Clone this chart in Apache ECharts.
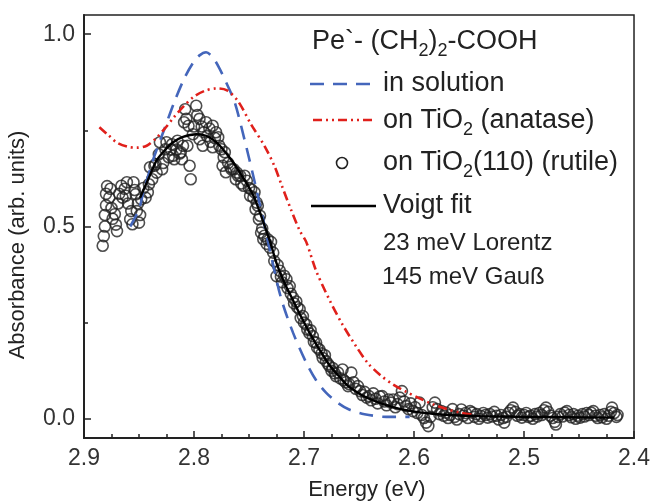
<!DOCTYPE html>
<html>
<head>
<meta charset="utf-8">
<script src="https://cdn.jsdelivr.net/npm/echarts@6/dist/echarts.min.js"></script>
<style>html,body{margin:0;padding:0;background:#fff}#c{width:653px;height:501px}</style>
</head>
<body>
<div id="c"></div>
<script>
// ---- data (Energy eV, Absorbance) ----
const xTicks = [2.4, 2.5, 2.6, 2.7, 2.8, 2.9];
const yTicks = [0.0, 0.5, 1.0];
const yMinorTicks = [0.25, 0.75];

const inSolution = [
 [2.858,0.500],[2.850,0.545],[2.846,0.590],[2.837,0.675],[2.827,0.753],[2.818,0.823],[2.809,0.884],
 [2.801,0.925],[2.795,0.945],[2.789,0.953],[2.783,0.940],[2.777,0.912],[2.770,0.870],[2.763,0.823],
 [2.754,0.725],[2.746,0.630],[2.738,0.530],[2.730,0.425],[2.721,0.315],[2.710,0.224],[2.698,0.146],
 [2.689,0.100],[2.680,0.068],[2.670,0.043],[2.659,0.024],[2.645,0.012],[2.625,0.005],[2.604,0.005]
];

const onAnatase = [
 [2.886,0.758],[2.878,0.738],[2.870,0.718],[2.860,0.707],[2.852,0.705],[2.843,0.710],[2.835,0.728],
 [2.827,0.753],[2.818,0.785],[2.809,0.814],[2.800,0.838],[2.790,0.853],[2.780,0.859],[2.770,0.854],
 [2.760,0.826],[2.748,0.765],[2.736,0.710],[2.727,0.658],[2.720,0.605],[2.712,0.545],[2.704,0.490],
 [2.698,0.460],[2.689,0.385],[2.677,0.310],[2.665,0.245],[2.653,0.190],[2.642,0.145],[2.630,0.112],
 [2.619,0.089],[2.607,0.070],[2.595,0.053],[2.583,0.038],[2.570,0.025],[2.558,0.016],[2.545,0.010]
];

const voigtFit = [
 [2.849,0.575],[2.842,0.620],[2.834,0.672],[2.826,0.700],[2.819,0.719],[2.810,0.733],[2.798,0.740],
 [2.789,0.736],[2.780,0.720],[2.772,0.695],[2.764,0.665],[2.755,0.625],[2.746,0.580],[2.738,0.520],
 [2.731,0.462],[2.725,0.405],[2.718,0.355],[2.710,0.308],[2.702,0.262],[2.695,0.224],[2.686,0.180],
 [2.677,0.140],[2.668,0.110],[2.659,0.083],[2.645,0.058],[2.628,0.038],[2.612,0.025],[2.598,0.018],
 [2.583,0.013],[2.568,0.010],[2.540,0.007],[2.500,0.005],[2.460,0.004],[2.418,0.003]
];

const onRutile = [
 [2.883,0.450],[2.882,0.475],[2.881,0.500],[2.881,0.530],[2.880,0.555],[2.880,0.585],[2.879,0.605],
 [2.877,0.575],[2.876,0.598],[2.875,0.548],[2.874,0.520],[2.872,0.532],[2.871,0.505],[2.870,0.488],
 [2.869,0.560],[2.868,0.585],[2.866,0.606],[2.865,0.575],[2.863,0.598],[2.862,0.580],[2.861,0.615],
 [2.860,0.560],[2.858,0.519],[2.857,0.540],[2.856,0.506],[2.855,0.615],[2.854,0.595],[2.853,0.584],
 [2.852,0.540],[2.851,0.560],[2.850,0.510],[2.849,0.530],[2.848,0.571],[2.846,0.600],[2.844,0.575],
 [2.842,0.589],[2.841,0.610],[2.840,0.654],[2.838,0.623],[2.836,0.658],[2.835,0.662],[2.834,0.640],
 [2.832,0.688],[2.831,0.719],[2.829,0.649],[2.828,0.665],[2.826,0.701],[2.825,0.719],[2.823,0.680],
 [2.821,0.700],[2.820,0.714],[2.819,0.684],[2.818,0.675],[2.816,0.700],[2.815,0.723],[2.813,0.690],
 [2.812,0.693],[2.811,0.675],[2.810,0.710],[2.809,0.771],[2.808,0.805],[2.807,0.780],[2.806,0.710],
 [2.805,0.762],[2.804,0.658],[2.803,0.623],[2.801,0.740],[2.800,0.760],
 [2.798,0.814],[2.797,0.790],[2.795,0.780],[2.795,0.727],[2.793,0.760],[2.792,0.710],[2.791,0.745],
 [2.789,0.771],[2.788,0.735],[2.786,0.755],[2.785,0.720],[2.783,0.762],[2.783,0.706],[2.781,0.730],
 [2.780,0.745],[2.778,0.732],[2.777,0.710],[2.775,0.701],[2.774,0.658],[2.773,0.680],[2.772,0.693],
 [2.771,0.641],[2.769,0.665],[2.767,0.655],[2.766,0.649],[2.764,0.649],[2.762,0.623],[2.761,0.640],
 [2.760,0.632],[2.758,0.632],[2.757,0.612],[2.755,0.606],[2.754,0.632],[2.752,0.619],[2.750,0.600],
 [2.749,0.580],[2.748,0.597],[2.746,0.575],[2.745,0.589],[2.744,0.545],[2.743,0.562],[2.742,0.554],
 [2.741,0.519],[2.740,0.528],[2.739,0.484],[2.738,0.495],[2.737,0.467],[2.736,0.476],[2.734,0.455],
 [2.733,0.467],[2.731,0.445],[2.730,0.460],[2.728,0.432],[2.727,0.410],
 [2.725,0.371],[2.724,0.400],[2.722,0.385],[2.721,0.370],[2.720,0.355],[2.718,0.372],[2.716,0.363],
 [2.715,0.340],[2.713,0.345],[2.712,0.325],[2.710,0.315],[2.709,0.300],[2.707,0.305],[2.706,0.290],
 [2.704,0.285],[2.703,0.262],[2.701,0.267],[2.700,0.250],[2.698,0.245],[2.697,0.232],[2.695,0.222],
 [2.694,0.230],[2.692,0.215],[2.691,0.200],[2.689,0.198],[2.688,0.185],[2.686,0.180],[2.684,0.170],
 [2.683,0.158],[2.681,0.165],[2.680,0.150],[2.678,0.142],[2.677,0.137],[2.675,0.125],[2.674,0.132],
 [2.672,0.118],[2.671,0.111],[2.669,0.120],[2.667,0.105],[2.665,0.128],[2.664,0.100],[2.662,0.095],
 [2.660,0.085],[2.659,0.090],
 [2.657,0.120],[2.655,0.095],[2.653,0.078],[2.651,0.085],[2.649,0.072],[2.647,0.062],[2.645,0.070],
 [2.643,0.055],[2.641,0.059],[2.639,0.048],[2.637,0.066],[2.635,0.052],[2.633,0.040],[2.631,0.058],
 [2.629,0.059],[2.627,0.045],[2.625,0.035],[2.623,0.050],[2.621,0.042],[2.619,0.050],[2.617,0.030],
 [2.615,0.038],[2.613,0.055],[2.611,0.072],[2.609,0.045],[2.607,0.033],[2.605,0.025],[2.603,0.040],
 [2.601,0.020],[2.599,0.030],[2.597,0.015],[2.595,0.042],[2.593,0.010],[2.591,0.002],[2.589,-0.010],
 [2.587,-0.019],[2.585,0.005],[2.583,0.030],[2.581,0.042],[2.579,0.025],[2.577,0.012],[2.575,0.020],
 [2.573,0.008],[2.571,0.016],[2.569,0.002],[2.567,0.010],[2.565,0.025],[2.563,0.005],[2.561,-0.002],
 [2.559,0.012],[2.557,0.024],[2.555,0.008],[2.553,0.015],[2.551,0.002],[2.549,0.020],[2.547,0.016],
 [2.545,0.005],[2.543,0.012],[2.541,0.000],[2.539,0.007],
 [2.537,0.015],[2.535,0.010],[2.533,0.003],[2.531,0.012],[2.529,0.006],[2.527,0.018],[2.525,0.008],
 [2.523,-0.002],[2.521,0.010],[2.519,0.002],[2.518,-0.010],[2.516,0.005],[2.514,0.015],[2.512,0.022],
 [2.510,0.029],[2.508,0.018],[2.506,0.008],[2.504,0.012],[2.502,0.003],[2.500,0.010],[2.498,0.015],
 [2.496,0.005],[2.494,0.008],[2.492,0.000],[2.490,0.012],[2.488,0.006],[2.486,0.015],[2.484,0.010],
 [2.482,0.022],[2.480,0.029],[2.478,0.018],[2.476,0.008],[2.474,0.002],[2.472,-0.008],[2.471,-0.015],
 [2.469,0.005],[2.467,0.012],[2.465,0.006],[2.463,0.016],[2.461,0.020],[2.459,0.010],[2.457,0.004],
 [2.455,0.012],[2.453,0.000],[2.451,0.008],[2.449,0.003],[2.447,0.012],[2.445,0.006],[2.443,0.015],
 [2.441,0.010],[2.439,0.016],[2.437,0.020],[2.435,0.008],[2.433,0.002],[2.431,0.010],[2.429,0.004],
 [2.427,0.012],[2.425,0.000],[2.423,0.008],[2.421,0.018],[2.420,0.029],[2.418,0.015],[2.416,0.005],
 [2.415,0.010]
];

// ---- styles ----
const FONT = '"Liberation Sans", Arial, Helvetica, sans-serif';
const INK = '#222';
const BLUE = '#4466bb';
const RED = '#e0201b';
const BLUE_DASH = [14, 9];
const RED_DASH = [9, 4, 2, 4, 2, 4];

const chart = echarts.init(document.getElementById('c'), null, {renderer: 'canvas'});

const legendText = (x, y, text, size) => ({
  type: 'text', x: x, y: y, z: 100,
  style: {
    text: text, fill: INK, font: size + 'px ' + FONT,
    textVerticalAlign: 'middle', verticalAlign: 'middle', align: 'left',
    rich: {
      n: {fontSize: size, fontFamily: FONT, lineHeight: 36, verticalAlign: 'middle', fill: INK},
      s: {fontSize: Math.round(size * 0.65), fontFamily: FONT, lineHeight: 14, verticalAlign: 'bottom', fill: INK}
    }
  }
});

const option = {
  animation: false,
  backgroundColor: '#fff',
  grid: {left: 84, right: 18, top: 15, bottom: 63, show: true, borderColor: INK, borderWidth: 1.5, backgroundColor: 'transparent'},
  xAxis: {
    type: 'value', inverse: true, min: xTicks[0], max: xTicks[xTicks.length - 1], interval: 0.1,
    axisLine: {show: true, onZero: false, lineStyle: {color: INK, width: 2}},
    axisTick: {show: true, inside: true, length: 7, lineStyle: {color: INK, width: 1.5}},
    minorTick: {show: true, splitNumber: 4, length: 4, lineStyle: {color: INK, width: 1.5}},
    axisLabel: {color: '#333', fontSize: 23, fontFamily: FONT, margin: 9, formatter: v => v.toFixed(1)},
    splitLine: {show: false}, minorSplitLine: {show: false}
  },
  yAxis: [{
    type: 'value', min: -0.05, max: 1.05, position: 'left',
    axisLine: {show: true, onZero: false, lineStyle: {color: INK, width: 2}},
    axisTick: {show: true, inside: true, length: 7, customValues: yTicks, lineStyle: {color: INK, width: 1.5}},
    axisLabel: {color: '#333', fontSize: 23, fontFamily: FONT, margin: 9, customValues: yTicks, formatter: v => v.toFixed(1)},
    splitLine: {show: false}
  }, {
    type: 'value', min: -0.05, max: 1.05, position: 'left',
    axisLine: {show: false, onZero: false},
    axisTick: {show: true, inside: true, length: 4, customValues: yMinorTicks, lineStyle: {color: INK, width: 1.5}},
    axisLabel: {show: false},
    splitLine: {show: false}
  }],
  series: [
    {
      name: 'on TiO2(110) (rutile)', type: 'scatter', data: onRutile, yAxisIndex: 0,
      symbol: 'circle', symbolSize: 11,
      itemStyle: {color: 'rgba(255,255,255,0)', borderColor: INK, borderWidth: 1.6},
      z: 2
    },
    {
      name: 'in solution', type: 'line', data: inSolution, smooth: 0.3, showSymbol: false,
      lineStyle: {color: BLUE, width: 2.6, type: BLUE_DASH}, z: 3
    },
    {
      name: 'on TiO2 (anatase)', type: 'line', data: onAnatase, smooth: 0.3, showSymbol: false,
      lineStyle: {color: RED, width: 2.6, type: RED_DASH}, z: 3
    },
    {
      name: 'Voigt fit', type: 'line', data: voigtFit, smooth: 0.3, showSymbol: false,
      lineStyle: {color: '#000', width: 2.4}, z: 4
    }
  ],
  graphic: [
    legendText(312, 42, '{n|Pe`- (CH}{s|2}{n|)}{s|2}{n|-COOH}', 27),
    {type: 'line', z: 100, shape: {x1: 310, y1: 84, x2: 376, y2: 84}, style: {stroke: BLUE, lineWidth: 2.6, lineDash: BLUE_DASH}},
    legendText(383, 84, '{n|in solution}', 27),
    {type: 'line', z: 100, shape: {x1: 313, y1: 120, x2: 376, y2: 120}, style: {stroke: RED, lineWidth: 2.6, lineDash: RED_DASH}},
    legendText(383, 121, '{n|on TiO}{s|2}{n| (anatase)}', 27),
    {type: 'circle', z: 100, shape: {cx: 342, cy: 163, r: 5.5}, style: {fill: 'none', stroke: INK, lineWidth: 1.6}},
    legendText(383, 163, '{n|on TiO}{s|2}{n|(110) (rutile)}', 27),
    {type: 'line', z: 100, shape: {x1: 311, y1: 206, x2: 376, y2: 206}, style: {stroke: '#000', lineWidth: 2.4}},
    legendText(383, 206, '{n|Voigt fit}', 27),
    legendText(383, 243, '{n|23 meV Lorentz}', 24),
    legendText(382, 277, '{n|145 meV Gauß}', 24),
    {type: 'text', x: 367, y: 490, z: 100,
     style: {text: 'Energy (eV)', fill: INK, font: '22px ' + FONT, align: 'center', verticalAlign: 'middle'}},
    {type: 'text', x: 18, y: 245, z: 100, rotation: Math.PI / 2,
     style: {text: 'Absorbance (arb. units)', fill: INK, font: '22px ' + FONT, align: 'center', verticalAlign: 'middle'}}
  ]
};
chart.setOption(option);
</script>
</body>
</html>
